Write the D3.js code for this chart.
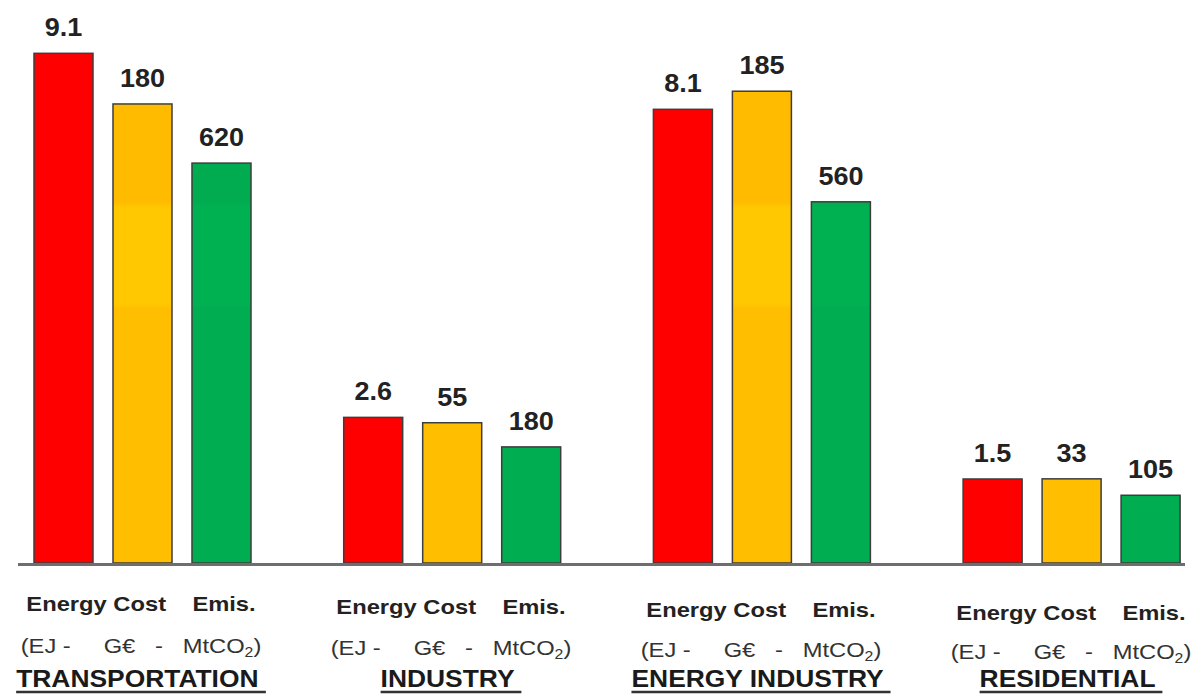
<!DOCTYPE html>
<html>
<head>
<meta charset="utf-8">
<script src="https://cdn.jsdelivr.net/npm/d3@7/dist/d3.min.js"></script>
<style>
  html, body { margin: 0; padding: 0; background: #fff; }
  svg { display: block; }
  text { font-family: "Liberation Sans", Arial, sans-serif; white-space: pre; }
</style>
</head>
<body>
<div id="chart"></div>
<script>
// sectors and the three measures shown for each of them
const sectors = ["TRANSPORTATION", "INDUSTRY", "ENERGY INDUSTRY", "RESIDENTIAL"];
const measures = ["energy", "cost", "emis"];
const energyEJ = [9.1, 2.6, 8.1, 1.5];     // EJ
const costGEur = [180, 55, 185, 33];       // G€
const emisMtCO2 = [620, 180, 560, 105];    // MtCO2
const measureHeader = "Energy Cost    Emis.";
const unitsText = "(EJ -     G€   -   MtCO";

const width = 1199;
const height = 697;
const baseY = 563; // bar baseline
const topY = 55;

const svg = d3.select("#chart")
    .append("svg")
    .attr("width", width)
    .attr("height", height);

// gradients (banded look of the original bars)
const defs = svg.append("defs");
function bandGradient(id, dark, light, lower) {
    const g = defs.append("linearGradient")
        .attr("id", id)
        .attr("gradientUnits", "userSpaceOnUse")
        .attr("x1", 0).attr("x2", 0)
        .attr("y1", topY).attr("y2", baseY);
    const stops = [
        [0, dark], [0.29, dark], [0.30, light], [0.49, light], [0.50, lower], [1, lower]
    ];
    g.selectAll("stop")
        .data(stops)
        .enter()
        .append("stop")
        .attr("offset", d => d[0])
        .attr("stop-color", d => d[1]);
}
bandGradient("gradCost", "#FFBB00", "#FFC800", "#FFBE00");
bandGradient("gradEmis", "#00AC4F", "#00B152", "#00AD50");

const fills = { energy: "#FF0000", cost: "url(#gradCost)", emis: "url(#gradEmis)" };
const values = { energy: energyEJ, cost: costGEur, emis: emisMtCO2 };
const formats = { energy: d3.format(".1f"), cost: d3.format("d"), emis: d3.format("d") };

// every measure has its own value scale
const y = {
    energy: d3.scaleLinear().domain([0, 9.07]).range([baseY, topY]),
    cost: d3.scaleLinear().domain([0, 199.2]).range([baseY, topY]),
    emis: d3.scaleLinear().domain([0, 787.6]).range([baseY, topY])
};

// group centres and bars within the group
const x0 = d3.scalePoint()
    .domain(sectors)
    .range([142.5, 1071.6]);

const x1 = d3.scaleBand()
    .domain(measures)
    .range([-108.5, 108.5])
    .paddingInner(0.253)
    .paddingOuter(0);

// labels below the axis sit on a slightly different grid
const xLab = d3.scalePoint()
    .domain(sectors)
    .range([141, 1071]);

const bars = [];
sectors.forEach((s, i) => {
    measures.forEach(m => bars.push({ sector: s, measure: m, value: values[m][i] }));
});

const barG = svg.append("g");

barG.selectAll("rect")
    .data(bars)
    .enter()
    .append("rect")
    .attr("x", d => x0(d.sector) + x1(d.measure))
    .attr("y", d => y[d.measure](d.value))
    .attr("width", x1.bandwidth())
    .attr("height", d => baseY - y[d.measure](d.value))
    .attr("fill", d => fills[d.measure])
    .attr("stroke", "#3d3d3d")
    .attr("stroke-width", 1.5);

// value labels
barG.selectAll("text.val")
    .data(bars)
    .enter()
    .append("text")
    .attr("class", "val")
    .attr("transform", d => `translate(${x0(d.sector) + x1(d.measure) + x1.bandwidth() / 2}, ${y[d.measure](d.value) - 17}) scale(1.08,1)`)
    .attr("text-anchor", "middle")
    .style("font-size", "25px")
    .style("font-weight", "bold")
    .style("fill", "#222")
    .text(d => formats[d.measure](d.value));

// baseline
svg.append("line")
    .attr("x1", 18)
    .attr("x2", 1185)
    .attr("y1", baseY + 1.5)
    .attr("y2", baseY + 1.5)
    .attr("stroke", "#6e6e6e")
    .attr("stroke-width", 3);

// labels below the bars (the original drifts down slightly to the right)
const lab = svg.selectAll(".sector-label")
    .data(sectors)
    .enter()
    .append("g")
    .attr("class", "sector-label");

lab.append("text")
    .attr("transform", (d, i) => `translate(${xLab(d)}, ${611 + i * 3}) scale(1.13,1)`)
    .attr("text-anchor", "middle")
    .attr("xml:space", "preserve")
    .style("font-size", "21px")
    .style("font-weight", "bold")
    .style("fill", "#222")
    .text(measureHeader);

const units = lab.append("text")
    .attr("transform", (d, i) => `translate(${xLab(d)}, ${653 + i * 2}) scale(1.13,1)`)
    .attr("text-anchor", "middle")
    .attr("xml:space", "preserve")
    .style("font-size", "21px")
    .style("fill", "#333");
units.append("tspan").text(unitsText);
units.append("tspan").attr("dy", 4).style("font-size", "14px").text("2");
units.append("tspan").attr("dy", -4).text(")");

lab.append("text")
    .attr("class", "name")
    .attr("transform", d => `translate(${xLab(d)}, 687) scale(1.1,1)`)
    .attr("text-anchor", "middle")
    .attr("xml:space", "preserve")
    .style("font-size", "24px")
    .style("font-weight", "bold")
    .style("fill", "#1a1a1a")
    .text(d => d + " ");

// underline, including the trailing space
lab.each(function (d) {
    const t = d3.select(this).select("text.name").node();
    const bb = t.getBBox();
    d3.select(this).append("line")
        .attr("x1", xLab(d) + bb.x * 1.1)
        .attr("x2", xLab(d) + (bb.x + bb.width) * 1.1)
        .attr("y1", 692)
        .attr("y2", 692)
        .attr("stroke", "#333")
        .attr("stroke-width", 2.5);
});
</script>
</body>
</html>
